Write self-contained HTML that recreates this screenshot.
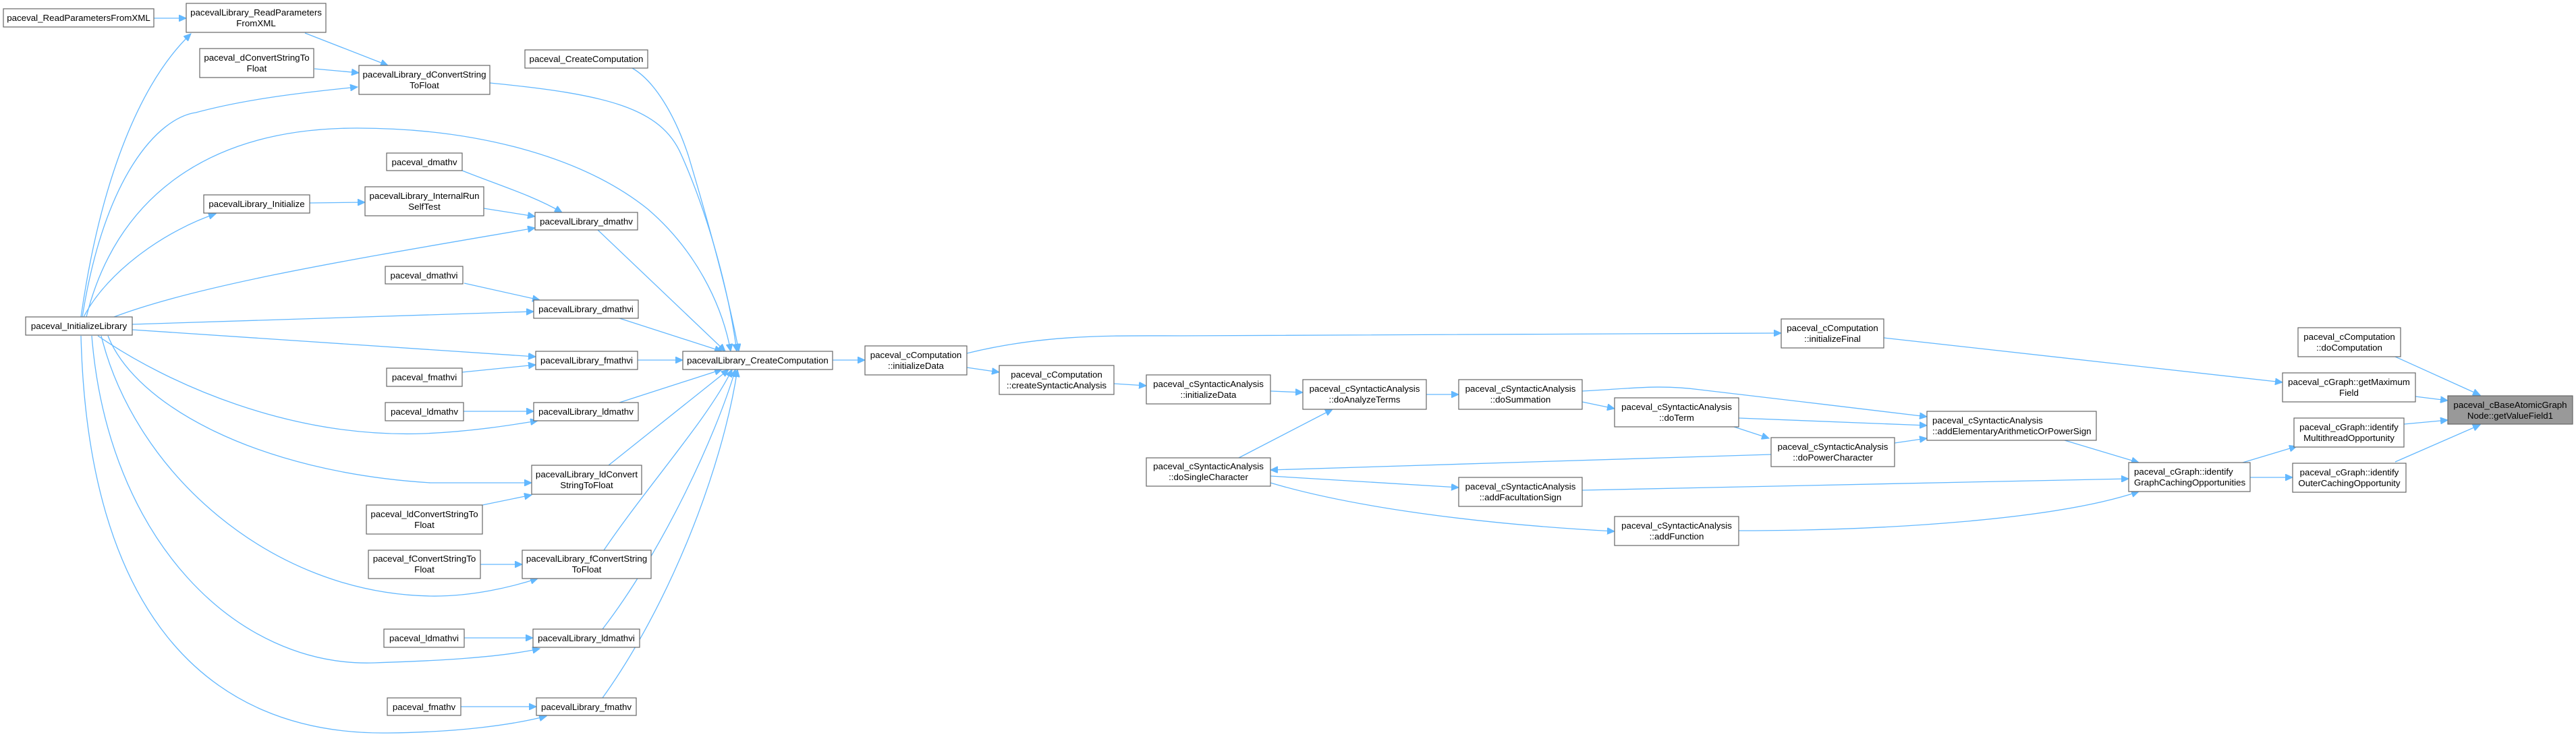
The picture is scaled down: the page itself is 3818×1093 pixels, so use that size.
<!DOCTYPE html>
<html><head><meta charset="utf-8"><style>
html,body{margin:0;padding:0;background:#fff;}
svg{display:block;}
text{font-family:"Liberation Sans",Arial,sans-serif;font-size:13.33px;fill:#000;}
.n{fill:#fff;stroke:#666;stroke-width:1.2;}
.e{fill:none;stroke:#63b8ff;stroke-width:1.3;marker-end:url(#a);}
</style></head><body>
<svg width="3818" height="1093" viewBox="0 0 3818 1093" xmlns="http://www.w3.org/2000/svg">
<defs><marker id="a" markerWidth="12" markerHeight="10" refX="11" refY="5" orient="auto" markerUnits="userSpaceOnUse"><path d="M0,0 L11,5 L0,10z" fill="#63b8ff" stroke="#63b8ff"/></marker></defs>
<g>
<path class="e" d="M228,27 L276,27"/>
<path class="e" d="M120,470 C150,260 210,120 283,50"/>
<path class="e" d="M452,49 L575,97"/>
<path class="e" d="M466,102 L532,108"/>
<path class="e" d="M122,470 C155,260 235,175 290,167 C360,148 440,138 530,129"/>
<path class="e" d="M726,123 C900,140 980,160 1010,230 C1050,320 1080,430 1092,521"/>
<path class="e" d="M937,101 C970,120 1000,170 1020,230 C1050,330 1080,440 1095,521"/>
<path class="e" d="M128,470 C170,300 300,190 529,190 C700,190 860,230 960,310 C1030,370 1070,450 1083,521"/>
<path class="e" d="M685,253 C740,275 790,290 833,315"/>
<path class="e" d="M459,301 L541,300"/>
<path class="e" d="M717,309 L793,321"/>
<path class="e" d="M124,470 C160,400 250,340 320,317"/>
<path class="e" d="M169,470 C300,420 550,380 793,338"/>
<path class="e" d="M886,341 L1075,521"/>
<path class="e" d="M688,420 L800,445"/>
<path class="e" d="M196,481 L791,462"/>
<path class="e" d="M918,472 L1070,521"/>
<path class="e" d="M196,489 L794,529"/>
<path class="e" d="M685,552 L794,541"/>
<path class="e" d="M945,534 L1012,534"/>
<path class="e" d="M145,498 C250,570 430,650 628,643 C700,640 760,630 797,624"/>
<path class="e" d="M687,610 L791,610"/>
<path class="e" d="M918,597 L1070,548"/>
<path class="e" d="M160,498 C200,600 380,700 638,716 L788,716"/>
<path class="e" d="M715,749 L788,734"/>
<path class="e" d="M902,690 L1080,548"/>
<path class="e" d="M150,498 C200,700 400,880 638,884 C700,885 760,870 797,858"/>
<path class="e" d="M712,837 L774,837"/>
<path class="e" d="M895,816 C960,720 1050,620 1085,548"/>
<path class="e" d="M136,498 C160,800 350,990 555,983 C650,980 740,975 800,962"/>
<path class="e" d="M688,946 L790,946"/>
<path class="e" d="M893,933 C980,820 1060,650 1090,548"/>
<path class="e" d="M120,498 C130,900 300,1090 574,1087 C680,1086 760,1075 810,1062"/>
<path class="e" d="M683,1048 L795,1048"/>
<path class="e" d="M893,1035 C990,900 1070,700 1093,548"/>
<path class="e" d="M1234,534 L1282,534"/>
<path class="e" d="M1433,524 C1550,495 1650,498 1750,498 L2640,494"/>
<path class="e" d="M1433,545 L1481,552"/>
<path class="e" d="M1651,569 L1699,572"/>
<path class="e" d="M1883,580 L1931,582"/>
<path class="e" d="M2114,585 L2162,585"/>
<path class="e" d="M1836,679 L1975,607"/>
<path class="e" d="M2345,580 C2420,576 2460,570 2520,578 C2620,590 2750,605 2856,618"/>
<path class="e" d="M2345,596 L2393,606"/>
<path class="e" d="M2577,620 L2856,631"/>
<path class="e" d="M2570,633 L2622,650"/>
<path class="e" d="M2808,657 L2856,650"/>
<path class="e" d="M2625,674 L1883,697"/>
<path class="e" d="M1883,706 L2162,723"/>
<path class="e" d="M1883,716 C1980,745 2150,775 2393,788"/>
<path class="e" d="M2345,727 L3155,710"/>
<path class="e" d="M2577,787 C2800,787 3050,770 3170,729"/>
<path class="e" d="M3060,653 L3170,686"/>
<path class="e" d="M2792,501 L3383,567"/>
<path class="e" d="M3324,686 L3404,662"/>
<path class="e" d="M3335,708 L3398,708"/>
<path class="e" d="M3550,529 L3676,586"/>
<path class="e" d="M3580,588 L3628,594"/>
<path class="e" d="M3563,629 L3628,623"/>
<path class="e" d="M3550,685 L3676,630"/>
</g>
<g text-anchor="middle">
<rect class="n" x="5" y="13" width="223" height="27"/><text x="116.5" y="31">paceval_ReadParametersFromXML</text>
<rect class="n" x="276" y="5" width="207" height="43"/><text x="379.5" y="23">pacevalLibrary_ReadParameters</text><text x="379.5" y="39">FromXML</text>
<rect class="n" x="296" y="72" width="169" height="43"/><text x="380.5" y="90">paceval_dConvertStringTo</text><text x="380.5" y="106">Float</text>
<rect class="n" x="532" y="97" width="194" height="43"/><text x="629" y="115">pacevalLibrary_dConvertString</text><text x="629" y="131">ToFloat</text>
<rect class="n" x="778" y="74" width="182" height="27"/><text x="869" y="92">paceval_CreateComputation</text>
<rect class="n" x="573" y="227" width="112" height="26"/><text x="629" y="245">paceval_dmathv</text>
<rect class="n" x="302" y="289" width="157" height="27"/><text x="380.5" y="307">pacevalLibrary_Initialize</text>
<rect class="n" x="541" y="277" width="176" height="43"/><text x="629" y="295">pacevalLibrary_InternalRun</text><text x="629" y="311">SelfTest</text>
<rect class="n" x="793" y="315" width="152" height="26"/><text x="869" y="333">pacevalLibrary_dmathv</text>
<rect class="n" x="571" y="395" width="115" height="26"/><text x="628.5" y="413">paceval_dmathvi</text>
<rect class="n" x="791" y="445" width="155" height="27"/><text x="868.5" y="463">pacevalLibrary_dmathvi</text>
<rect class="n" x="38" y="470" width="158" height="27"/><text x="117" y="488">paceval_InitializeLibrary</text>
<rect class="n" x="794" y="521" width="151" height="27"/><text x="869.5" y="539">pacevalLibrary_fmathvi</text>
<rect class="n" x="573" y="546" width="112" height="27"/><text x="629" y="564">paceval_fmathvi</text>
<rect class="n" x="571" y="597" width="116" height="27"/><text x="629" y="615">paceval_ldmathv</text>
<rect class="n" x="791" y="597" width="155" height="27"/><text x="868.5" y="615">pacevalLibrary_ldmathv</text>
<rect class="n" x="788" y="690" width="163" height="43"/><text x="869.5" y="708">pacevalLibrary_ldConvert</text><text x="869.5" y="724">StringToFloat</text>
<rect class="n" x="543" y="749" width="172" height="43"/><text x="629" y="767">paceval_ldConvertStringTo</text><text x="629" y="783">Float</text>
<rect class="n" x="546" y="816" width="166" height="42"/><text x="629" y="833">paceval_fConvertStringTo</text><text x="629" y="849">Float</text>
<rect class="n" x="774" y="816" width="191" height="42"/><text x="869.5" y="833">pacevalLibrary_fConvertString</text><text x="869.5" y="849">ToFloat</text>
<rect class="n" x="569" y="933" width="119" height="27"/><text x="628.5" y="951">paceval_ldmathvi</text>
<rect class="n" x="790" y="933" width="158" height="27"/><text x="869" y="951">pacevalLibrary_ldmathvi</text>
<rect class="n" x="574" y="1035" width="109" height="26"/><text x="628.5" y="1053">paceval_fmathv</text>
<rect class="n" x="795" y="1035" width="148" height="26"/><text x="869" y="1053">pacevalLibrary_fmathv</text>
<rect class="n" x="1012" y="521" width="222" height="27"/><text x="1123" y="539">pacevalLibrary_CreateComputation</text>
<rect class="n" x="1282" y="513" width="151" height="43"/><text x="1357.5" y="531">paceval_cComputation</text><text x="1357.5" y="547">::initializeData</text>
<rect class="n" x="1481" y="542" width="170" height="43"/><text x="1566" y="560">paceval_cComputation</text><text x="1566" y="576">::createSyntacticAnalysis</text>
<rect class="n" x="1699" y="556" width="184" height="43"/><text x="1791" y="574">paceval_cSyntacticAnalysis</text><text x="1791" y="590">::initializeData</text>
<rect class="n" x="1931" y="563" width="183" height="44"/><text x="2022.5" y="581">paceval_cSyntacticAnalysis</text><text x="2022.5" y="597">::doAnalyzeTerms</text>
<rect class="n" x="2162" y="563" width="183" height="44"/><text x="2253.5" y="581">paceval_cSyntacticAnalysis</text><text x="2253.5" y="597">::doSummation</text>
<rect class="n" x="1699" y="679" width="184" height="42"/><text x="1791" y="696">paceval_cSyntacticAnalysis</text><text x="1791" y="712">::doSingleCharacter</text>
<rect class="n" x="2162" y="708" width="183" height="43"/><text x="2253.5" y="726">paceval_cSyntacticAnalysis</text><text x="2253.5" y="742">::addFacultationSign</text>
<rect class="n" x="2393" y="590" width="184" height="43"/><text x="2485" y="608">paceval_cSyntacticAnalysis</text><text x="2485" y="624">::doTerm</text>
<rect class="n" x="2625" y="649" width="183" height="43"/><text x="2716.5" y="667">paceval_cSyntacticAnalysis</text><text x="2716.5" y="683">::doPowerCharacter</text>
<rect class="n" x="2393" y="766" width="184" height="43"/><text x="2485" y="784">paceval_cSyntacticAnalysis</text><text x="2485" y="800">::addFunction</text>
<rect class="n" x="2640" y="473" width="152" height="43"/><text x="2716" y="491">paceval_cComputation</text><text x="2716" y="507">::initializeFinal</text>
<rect class="n" x="2856" y="610" width="251" height="43"/><text x="2864" y="628" text-anchor="start">paceval_cSyntacticAnalysis</text><text x="2864" y="644" text-anchor="start">::addElementaryArithmeticOrPowerSign</text>
<rect class="n" x="3155" y="686" width="180" height="43"/><text x="3163" y="704" text-anchor="start">paceval_cGraph::identify</text><text x="3163" y="720" text-anchor="start">GraphCachingOpportunities</text>
<rect class="n" x="3406" y="486" width="152" height="43"/><text x="3482" y="504">paceval_cComputation</text><text x="3482" y="520">::doComputation</text>
<rect class="n" x="3383" y="553" width="197" height="43"/><text x="3481.5" y="571">paceval_cGraph::getMaximum</text><text x="3481.5" y="587">Field</text>
<rect class="n" x="3400" y="620" width="163" height="43"/><text x="3481.5" y="638">paceval_cGraph::identify</text><text x="3481.5" y="654">MultithreadOpportunity</text>
<rect class="n" x="3398" y="687" width="168" height="43"/><text x="3482" y="705">paceval_cGraph::identify</text><text x="3482" y="721">OuterCachingOpportunity</text>
<rect x="3628" y="587" width="185" height="42" fill="#999" stroke="#666" stroke-width="1.2"/><text x="3720.5" y="605">paceval_cBaseAtomicGraph</text><text x="3720.5" y="621">Node::getValueField1</text>
</g>
</svg>
</body></html>
